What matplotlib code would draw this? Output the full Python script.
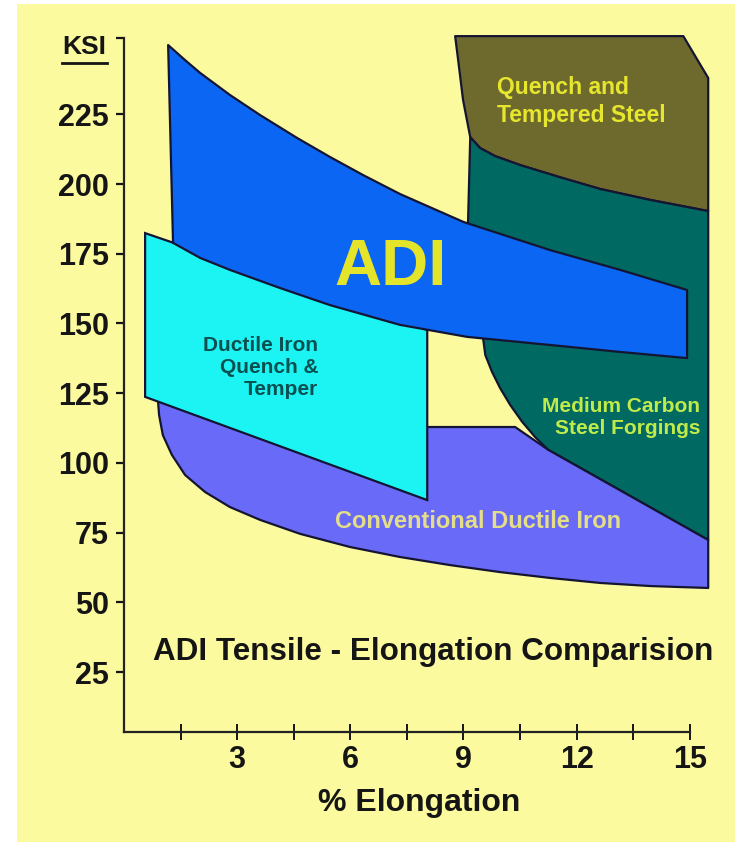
import matplotlib
matplotlib.use("Agg")
import matplotlib.pyplot as plt
from matplotlib.patches import Polygon, Rectangle
from matplotlib.lines import Line2D

plt.rcParams["font.family"] = ["Liberation Sans", "DejaVu Sans"]
plt.rcParams["font.weight"] = "bold"

# region outlines: % elongation vs KSI
adi_top_x = [1.17, 1.62, 2.02, 2.81, 3.61, 4.59, 5.46, 6.34, 7.32, 9.0, 11.3, 13.16, 14.93]
adi_top_y = [249.8, 244.4, 239.8, 231.9, 224.7, 216.5, 209.7, 203.2, 196.4, 186.4, 176.3, 169.2, 162.0]
adi_bot_x = [14.93, 13.16, 11.3, 9.1, 7.32, 5.46, 4.14, 2.81, 2.02, 1.3]
adi_bot_y = [137.6, 139.8, 142.3, 145.2, 149.5, 156.6, 162.7, 169.2, 173.5, 178.9]

dqt_x = [0.56, 8.04, 8.04, 0.56]
dqt_y = [182.4, 147.7, 86.7, 123.7]

cdi_top_x = [0.9, 8.06, 10.37, 11.25, 15.49]
cdi_top_y = [122.6, 112.9, 112.9, 104.7, 72.4]
cdi_bot_x = [15.49, 13.95, 12.63, 11.3, 9.97, 8.65, 7.32, 5.99, 4.67, 3.61, 2.81, 2.15, 1.62, 1.27, 1.03, 0.93]
cdi_bot_y = [55.2, 55.9, 57.0, 58.8, 60.9, 63.4, 66.3, 69.9, 74.6, 79.6, 84.2, 89.6, 95.7, 102.9, 110.0, 117.2]

# boundary between quench & tempered steel and forgings
qts_bot_x = [9.18, 9.44, 9.84, 10.5, 11.54, 12.63, 13.95, 15.49]
qts_bot_y = [216.8, 212.9, 210.0, 206.8, 202.5, 198.2, 194.3, 190.3]
qts_edge_x = [15.49, 15.49, 14.83, 8.78, 8.86, 8.99]
qts_edge_y = [190.3, 238, 253, 253, 244.4, 230.1]

mcs_edge_x = [15.49, 11.25, 10.9, 10.56, 10.24, 9.97, 9.76, 9.58, 9.12]
mcs_edge_y = [72.4, 104.7, 109.3, 114.7, 120.8, 126.9, 132.6, 138.7, 185.3]

y_ticks = [25, 50, 75, 100, 125, 150, 175, 200, 225]
x_major = [3, 6, 9, 12, 15]
x_minor = [1.5, 4.5, 7.5, 10.5, 13.5]

fig = plt.figure(figsize=(7.35, 8.42), dpi=100)
fig.patch.set_facecolor("white")
fig.add_artist(Rectangle((17 / 735, 0), 1, 838 / 842, transform=fig.transFigure,
                         facecolor="#FCFA9E", edgecolor="none", zorder=-10))

ax = fig.add_axes([124 / 735, 110 / 842, 611 / 735, 702 / 842])
ax.set_facecolor("none")
ax.set_xlim(0, 16.2)
ax.set_ylim(3.58, 255.2)

edge = "#141433"
lw = 1.6

olive = list(zip(qts_edge_x, qts_edge_y)) + list(zip(qts_bot_x, qts_bot_y))
ax.add_patch(Polygon(olive, closed=True, facecolor="#6E6A2E", edgecolor=edge, lw=lw,
                     joinstyle="round", zorder=1))

teal = list(zip(qts_bot_x, qts_bot_y)) + list(zip(mcs_edge_x, mcs_edge_y))
ax.add_patch(Polygon(teal, closed=True, facecolor="#006A62", edgecolor=edge, lw=lw,
                     joinstyle="round", zorder=2))

purple = list(zip(cdi_top_x, cdi_top_y)) + list(zip(cdi_bot_x, cdi_bot_y))
ax.add_patch(Polygon(purple, closed=True, facecolor="#6A6AF8", edgecolor=edge, lw=lw,
                     joinstyle="round", zorder=3))

ax.add_patch(Polygon(list(zip(dqt_x, dqt_y)), closed=True, facecolor="#1CF4F4",
                     edgecolor=edge, lw=lw, zorder=4))

adi = list(zip(adi_top_x, adi_top_y)) + list(zip(adi_bot_x, adi_bot_y))
ax.add_patch(Polygon(adi, closed=True, facecolor="#0B66F3", edgecolor=edge, lw=lw,
                     joinstyle="round", zorder=5))

# labels on the regions
ax.text(9.89, 229.6, "Quench and\nTempered Steel", ha="left", va="center",
        fontsize=16.5, color="#E6E62E", linespacing=1.3, zorder=6)
ax.text(7.06, 169.9, "ADI", ha="center", va="center", fontsize=47,
        color="#E4E42A", zorder=6)
ax.text(5.15, 134.1, "Ductile Iron\nQuench &\nTemper", ha="right", va="center",
        multialignment="right", fontsize=15, color="#0A5050", linespacing=1.2, zorder=6)
ax.text(15.28, 116.3, "Medium Carbon\nSteel Forgings", ha="right", va="center",
        multialignment="right", fontsize=15, color="#C0EA4A", linespacing=1.2, zorder=6)
ax.text(9.39, 78.9, "Conventional Ductile Iron", ha="center", va="center",
        fontsize=17, color="#E4DE88", zorder=6)
ax.text(8.21, 32.3, "ADI Tensile - Elongation Comparision", ha="center", va="center",
        fontsize=22.6, color="#151515", zorder=6)

# axes
for s in ["top", "right"]:
    ax.spines[s].set_visible(False)
ax.spines["left"].set_bounds(3.58, 252.3)
ax.spines["bottom"].set_bounds(0, 15)
for s in ["left", "bottom"]:
    ax.spines[s].set_linewidth(1.6)
    ax.spines[s].set_color("#222")

ax.set_yticks(y_ticks)
ax.set_yticks([252.3], minor=True)
ax.tick_params(axis="y", which="both", direction="out", length=6, width=1.6,
               pad=5, labelsize=22, colors="#151515")
ax.set_xticks(x_major)
ax.set_xticks(x_minor, minor=True)
ax.tick_params(axis="x", which="both", direction="inout", length=11, width=1.4,
               pad=4, labelsize=22, colors="#151515")
for lab in ax.get_xticklabels() + ax.get_yticklabels():
    lab.set_fontweight("bold")

fig.text(419 / 735, 1 - 803 / 842, "% Elongation", ha="center", va="center",
         fontsize=23, color="#151515")
fig.text(84 / 735, 1 - 47 / 842, "KSI", ha="center", va="center",
         fontsize=19, color="#151515")
fig.add_artist(Line2D([62 / 735, 107 / 735], [1 - 63 / 842, 1 - 63 / 842],
                      transform=fig.transFigure, color="#151515", lw=2))

fig.savefig("out.png", dpi=100)
